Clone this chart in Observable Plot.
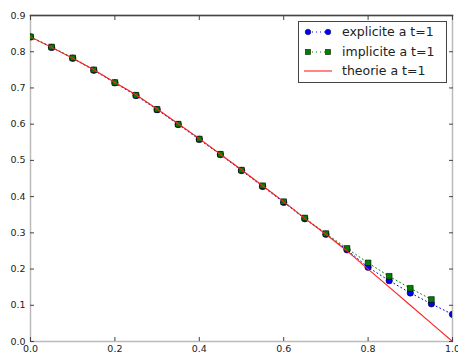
<!DOCTYPE html>
<html>
<head>
<meta charset="utf-8">
<script src="https://cdn.jsdelivr.net/npm/d3@7"></script>
<script src="https://cdn.jsdelivr.net/npm/@observablehq/plot@0.6"></script>
<style>
  html, body { margin: 0; padding: 0; background: #fff; }
  #chart { width: 458px; height: 358px; }
</style>
</head>
<body>
<div id="chart"></div>
<script>
const xs = [0, 0.05, 0.1, 0.15, 0.2, 0.25, 0.3, 0.35, 0.4, 0.45, 0.5, 0.55, 0.6, 0.65, 0.7, 0.75, 0.8, 0.85, 0.9, 0.95, 1.0];
const theorie = [0.841, 0.812, 0.782, 0.750, 0.715, 0.681, 0.642, 0.601, 0.560, 0.517, 0.474, 0.430, 0.386, 0.340, 0.296, 0.250, 0.200, 0.150, 0.100, 0.050, 0.0];
const explicite = [0.841, 0.812, 0.782, 0.749, 0.714, 0.679, 0.640, 0.599, 0.558, 0.516, 0.472, 0.428, 0.384, 0.339, 0.296, 0.253, 0.205, 0.168, 0.134, 0.104, 0.075];
const implicite = [0.841, 0.813, 0.783, 0.750, 0.715, 0.680, 0.641, 0.600, 0.559, 0.517, 0.473, 0.430, 0.386, 0.341, 0.298, 0.257, 0.217, 0.180, 0.147, 0.116];
const xTicks = [0, 0.2, 0.4, 0.6, 0.8, 1.0];
const yTicks = [0, 0.1, 0.2, 0.3, 0.4, 0.5, 0.6, 0.7, 0.8, 0.9];
const legendLabels = ["explicite a t=1", "implicite a t=1", "theorie a t=1"];

const theoData = xs.map((x, i) => ({x, y: theorie[i]}));
const explData = xs.map((x, i) => ({x, y: explicite[i]}));
const implData = implicite.map((y, i) => ({x: xs[i], y}));

const BLUE = "#0000ff", GREEN = "#008000", RED = "#ff2020";
const font = "DejaVu Sans, sans-serif";

const chart = Plot.plot({
  width: 458,
  height: 358,
  marginLeft: 30,
  marginRight: 6,
  marginTop: 15,
  marginBottom: 17,
  style: {fontFamily: font, background: "#fff", overflow: "visible"},
  x: {domain: [0, 1]},
  y: {domain: [0, 0.9]},
  marks: [
    Plot.frame({stroke: "#bbb", strokeWidth: 1.5}),
    Plot.frame({anchor: "top", stroke: "#444", strokeWidth: 1.5}),
    Plot.axisY(yTicks, {tickSize: 0, tickPadding: 5, tickFormat: d3.format(".1f"), fontSize: 9.5, fill: "#222", label: null}),
    Plot.axisX(xTicks, {tickSize: 0, tickPadding: 4, tickFormat: d3.format(".1f"), fontSize: 9.5, fill: "#222", label: null}),
    Plot.axisY(yTicks, {anchor: "left", tickSize: -4, text: null, stroke: "#444", label: null}),
    Plot.axisY(yTicks, {anchor: "right", tickSize: -4, text: null, stroke: "#444", label: null}),
    Plot.axisX(xTicks, {anchor: "bottom", tickSize: -4, text: null, stroke: "#444", label: null}),
    Plot.axisX(xTicks, {anchor: "top", tickSize: -4, text: null, stroke: "#444", label: null}),
    Plot.line(explData, {x: "x", y: "y", stroke: BLUE, strokeWidth: 1, strokeDasharray: "1,3", clip: true}),
    Plot.dot(explData, {x: "x", y: "y", r: 3.2, fill: BLUE, stroke: "#000", strokeWidth: 0.6, clip: true}),
    Plot.line(implData, {x: "x", y: "y", stroke: GREEN, strokeWidth: 1, strokeDasharray: "1,3", clip: true}),
    Plot.dot(implData, {x: "x", y: "y", symbol: "square", r: 3.2, fill: GREEN, stroke: "#000", strokeWidth: 0.6, clip: true}),
    Plot.line(theoData, {x: "x", y: "y", stroke: RED, strokeWidth: 1.1, clip: true})
  ]
});

document.getElementById("chart").appendChild(chart);

const svg = d3.select(chart);
const lg = svg.append("g").attr("transform", "translate(298,21)").attr("text-anchor", "start");
lg.append("rect").attr("x", 0.5).attr("y", 0.5).attr("width", 148).attr("height", 61)
  .attr("fill", "#fff").attr("stroke", "#444").attr("stroke-width", 1);
const rows = [11, 31, 50];
lg.append("line").attr("x1", 10).attr("x2", 30).attr("y1", rows[0]).attr("y2", rows[0])
  .attr("stroke", BLUE).attr("stroke-dasharray", "1,3");
[10, 30].forEach(cx => lg.append("circle").attr("cx", cx).attr("cy", rows[0]).attr("r", 2.8)
  .attr("fill", BLUE).attr("stroke", "#000").attr("stroke-width", 0.5));
lg.append("line").attr("x1", 10).attr("x2", 30).attr("y1", rows[1]).attr("y2", rows[1])
  .attr("stroke", GREEN).attr("stroke-dasharray", "1,3");
[10, 30].forEach(cx => lg.append("rect").attr("x", cx - 2.6).attr("y", rows[1] - 2.6).attr("width", 5.2).attr("height", 5.2)
  .attr("fill", GREEN).attr("stroke", "#000").attr("stroke-width", 0.5));
lg.append("line").attr("x1", 6).attr("x2", 34).attr("y1", rows[2]).attr("y2", rows[2])
  .attr("stroke", RED).attr("stroke-width", 1.1);
legendLabels.forEach((t, i) => lg.append("text").attr("x", 44).attr("y", rows[i]).attr("dy", "0.35em")
  .attr("text-anchor", "start").attr("font-family", font).attr("font-size", 12.5).attr("fill", "#222").text(t));
</script>
</body>
</html>
